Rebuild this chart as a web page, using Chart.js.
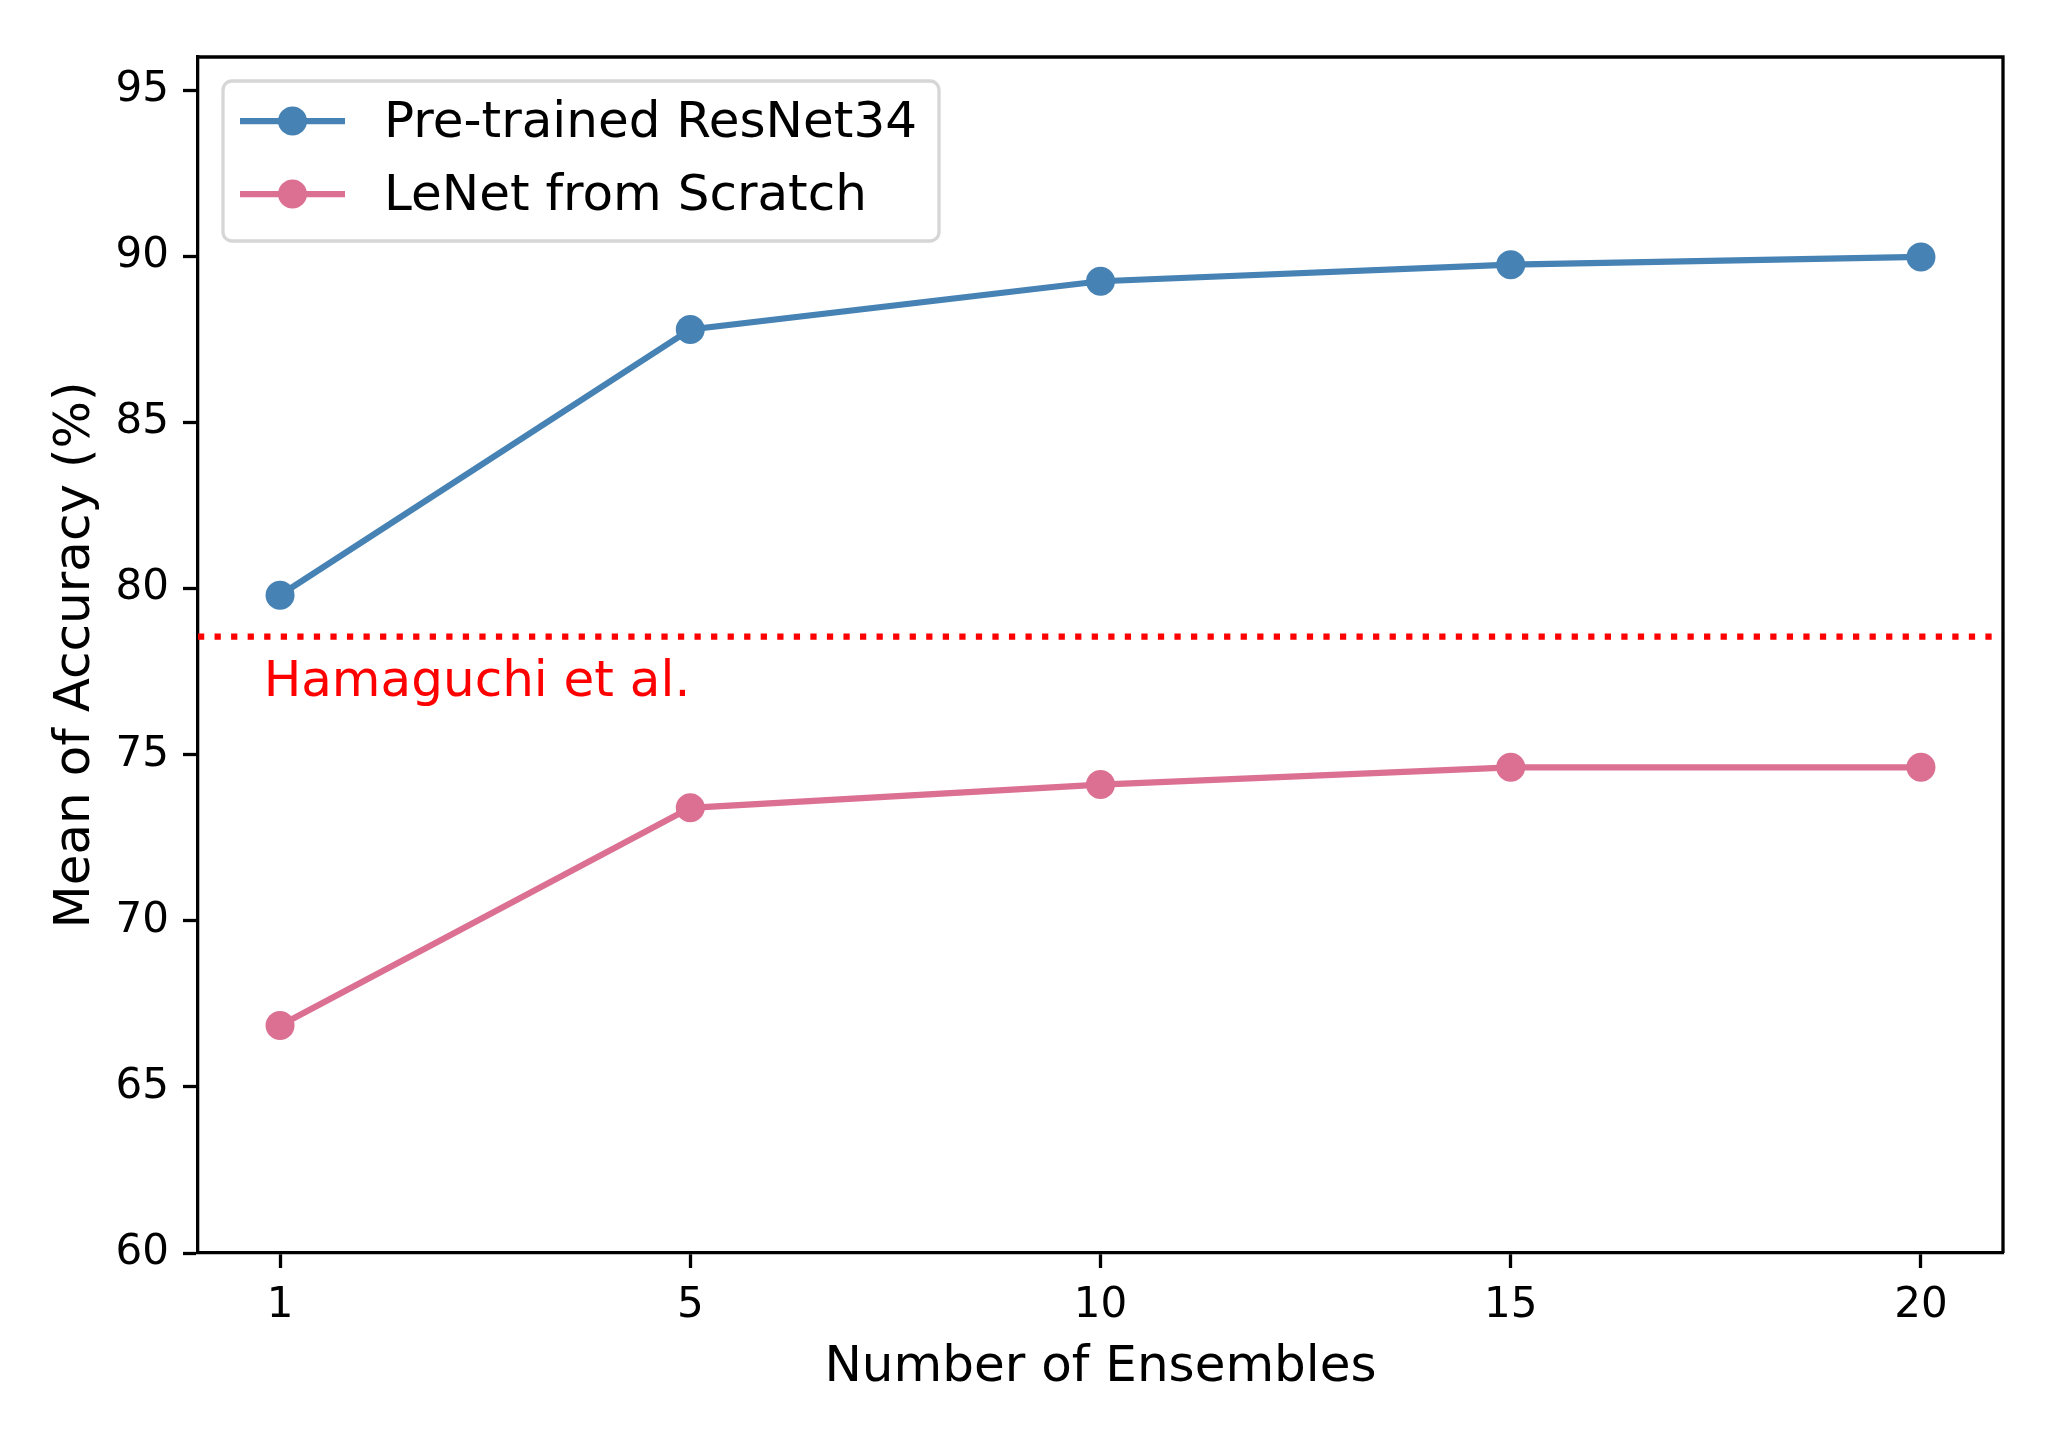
<!DOCTYPE html>
<html>
<head>
<meta charset="utf-8">
<script src="https://cdn.jsdelivr.net/npm/chart.js@4"></script>
<style>
  html, body { margin: 0; padding: 0; background: #fff; }
  #wrap { width: 2057px; height: 1440px; }
</style>
</head>
<body>
<div id="wrap"><canvas id="graph" width="2057" height="1440"></canvas></div>
<script>
// Data
const ensembleLabels = ['1', '5', '10', '15', '20'];
const resnetAcc = [79.8, 87.8, 89.25, 89.75, 89.98];
const lenetAcc = [66.85, 73.4, 74.1, 74.62, 74.62];
const hamaguchiAcc = 78.55;
const hamaguchiText = 'Hamaguchi et al.';
const yTicks = [60, 65, 70, 75, 80, 85, 90, 95];

const FONT = "'DejaVu Sans', sans-serif";

const toPoints = (vals) => vals.map((v, i) => ({ x: i, y: v }));

// top/right frame, baseline and its label
const extras = {
    id: 'extras',
    beforeDatasetsDraw(chart) {
        const { ctx, chartArea: a, scales: { x, y } } = chart;
        const yy = y.getPixelForValue(hamaguchiAcc);
        ctx.save();
        ctx.strokeStyle = '#ff0000';
        ctx.lineWidth = 6.25;
        ctx.setLineDash([6.25, 10.3]);
        ctx.beginPath();
        ctx.moveTo(a.left, yy);
        ctx.lineTo(a.right, yy);
        ctx.stroke();
        ctx.setLineDash([]);
        ctx.fillStyle = '#ff0000';
        ctx.font = '50px ' + FONT;
        ctx.textBaseline = 'middle';
        ctx.textAlign = 'left';
        ctx.fillText(hamaguchiText, x.getPixelForValue(-0.04), y.getPixelForValue(hamaguchiAcc - 1.4));
        ctx.restore();
    },
    afterDraw(chart) {
        const { ctx, chartArea: a } = chart;
        ctx.save();
        ctx.strokeStyle = '#000';
        ctx.lineWidth = 3.3;
        ctx.beginPath();
        ctx.moveTo(a.left, a.top);
        ctx.lineTo(a.right, a.top);
        ctx.lineTo(a.right, a.bottom);
        ctx.stroke();

        // legend, matplotlib style
        const bx = 223, by = 81, bw = 716, bh = 160, r = 9;
        ctx.fillStyle = 'rgba(255,255,255,0.8)';
        ctx.strokeStyle = '#d6d6d6';
        ctx.lineWidth = 3.3;
        ctx.beginPath();
        ctx.roundRect(bx, by, bw, bh, r);
        ctx.fill();
        ctx.stroke();
        ctx.font = '50px ' + FONT;
        ctx.textBaseline = 'middle';
        ctx.textAlign = 'left';
        chart.data.datasets.forEach((ds, i) => {
            const cy = 121 + i * 73;
            ctx.strokeStyle = ds.borderColor;
            ctx.lineWidth = 6.25;
            ctx.beginPath();
            ctx.moveTo(240, cy);
            ctx.lineTo(345, cy);
            ctx.stroke();
            ctx.fillStyle = ds.backgroundColor;
            ctx.beginPath();
            ctx.arc(292.5, cy, 14.5, 0, Math.PI * 2);
            ctx.fill();
            ctx.fillStyle = '#000';
            ctx.fillText(ds.label, 384, cy + 3);
        });
        ctx.restore();
    }
};

const ctx = document.getElementById('graph').getContext('2d');
const accChart = new Chart(ctx, {
    type: 'line',
    data: {
        datasets: [{
            label: 'Pre-trained ResNet34',
            data: toPoints(resnetAcc),
            borderColor: '#4682b4',
            backgroundColor: '#4682b4',
            borderWidth: 6.25,
            pointRadius: 14.5,
            pointBorderWidth: 0,
            tension: 0
        }, {
            label: 'LeNet from Scratch',
            data: toPoints(lenetAcc),
            borderColor: '#db7093',
            backgroundColor: '#db7093',
            borderWidth: 6.25,
            pointRadius: 14.5,
            pointBorderWidth: 0,
            tension: 0
        }]
    },
    options: {
        responsive: false,
        animation: false,
        events: [],
        layout: { padding: { left: 0, top: 57, right: 54, bottom: 0 } },
        plugins: {
            legend: { display: false },
            tooltip: { enabled: false }
        },
        scales: {
            x: {
                type: 'linear',
                min: -0.2,
                max: 4.2,
                afterBuildTicks: (s) => { s.ticks = ensembleLabels.map((_, i) => ({ value: i })); },
                afterFit: (s) => { s.height = 187; },
                ticks: {
                    color: '#000',
                    font: { family: FONT, size: 42 },
                    padding: 13,
                    maxRotation: 0,
                    autoSkip: false,
                    callback: (v) => ensembleLabels[v]
                },
                grid: { drawOnChartArea: false, tickLength: 15, tickWidth: 3.3, tickColor: '#000' },
                border: { display: true, color: '#000', width: 3.3 },
                title: {
                    display: true,
                    text: 'Number of Ensembles',
                    color: '#000',
                    font: { family: FONT, size: 50 },
                    padding: { top: 0, bottom: 42 }
                }
            },
            y: {
                min: 60,
                max: 96,
                afterBuildTicks: (s) => { s.ticks = yTicks.map(v => ({ value: v })); },
                afterFit: (s) => { s.width = 198; },
                ticks: {
                    color: '#000',
                    font: { family: FONT, size: 42 },
                    padding: 14
                },
                grid: { drawOnChartArea: false, tickLength: 15, tickWidth: 3.3, tickColor: '#000' },
                border: { display: true, color: '#000', width: 3.3 },
                title: {
                    display: true,
                    text: 'Mean of Accuracy (%)',
                    color: '#000',
                    font: { family: FONT, size: 50 },
                    padding: { top: 46, bottom: 0 }
                }
            }
        }
    },
    plugins: [extras]
});
</script>
</body>
</html>
